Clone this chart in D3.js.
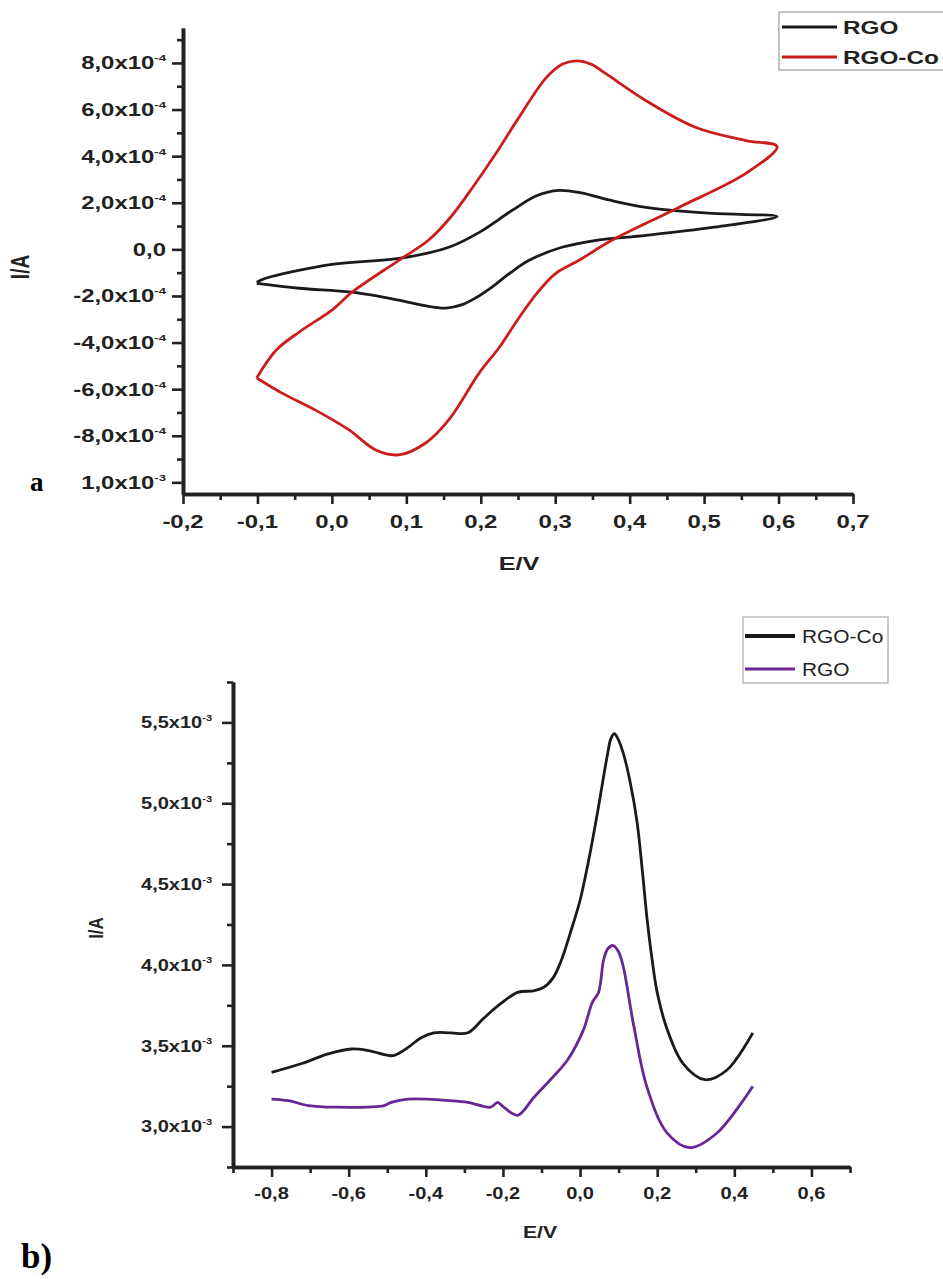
<!DOCTYPE html>
<html>
<head>
<meta charset="utf-8">
<script src="https://cdn.jsdelivr.net/npm/d3@7/dist/d3.min.js"></script>
<style>
  body { margin: 0; background: #fff; }
  svg { display: block; }
</style>
</head>
<body>
<div id="viz"></div>
<script>
// ---- panel a : cyclic voltammograms ----
var aRgoE = [-0.101, -0.089, 0.0, 0.09, 0.157, 0.198, 0.242, 0.275, 0.305, 0.335, 0.372, 0.422, 0.511, 0.598,
             0.511, 0.422, 0.355, 0.309, 0.265, 0.24, 0.215, 0.195, 0.175, 0.153, 0.125, 0.09, 0.027, -0.044, -0.101];
var aRgoI = [-1.41e-4, -1.24e-4, -0.64e-4, -0.39e-4, 0.09e-4, 0.73e-4, 1.67e-4, 2.30e-4, 2.53e-4, 2.42e-4, 2.12e-4, 1.80e-4, 1.54e-4, 1.41e-4,
             0.94e-4, 0.60e-4, 0.39e-4, 0.09e-4, -0.47e-4, -1.0e-4, -1.62e-4, -2.05e-4, -2.37e-4, -2.52e-4, -2.42e-4, -2.18e-4, -1.84e-4, -1.67e-4, -1.46e-4];

var aCoE = [-0.101, -0.075, -0.044, 0.0, 0.027, 0.09, 0.13, 0.16, 0.19, 0.22, 0.25, 0.288, 0.31, 0.328, 0.348, 0.368, 0.422, 0.489, 0.556, 0.598,
            0.556, 0.466, 0.376, 0.332, 0.30, 0.275, 0.25, 0.225, 0.198, 0.157, 0.126, 0.09, 0.059, 0.023, -0.022, -0.067, -0.101];
var aCoI = [-5.52e-4, -4.33e-4, -3.55e-4, -2.61e-4, -1.84e-4, -0.47e-4, 0.40e-4, 1.40e-4, 2.70e-4, 4.10e-4, 5.60e-4, 7.37e-4, 7.95e-4, 8.09e-4, 7.95e-4, 7.54e-4, 6.38e-4, 5.23e-4, 4.67e-4, 4.41e-4,
            3.26e-4, 1.80e-4, 0.39e-4, -0.47e-4, -1.05e-4, -1.90e-4, -3.00e-4, -4.20e-4, -5.30e-4, -7.32e-4, -8.31e-4, -8.82e-4, -8.61e-4, -7.75e-4, -6.90e-4, -6.17e-4, -5.52e-4];

var aXTicks = [-0.2, -0.1, 0.0, 0.1, 0.2, 0.3, 0.4, 0.5, 0.6, 0.7];
var aYTicks = [8e-4, 6e-4, 4e-4, 2e-4, 0, -2e-4, -4e-4, -6e-4, -8e-4, -1e-3];
var aYLabels = ["8,0x10^-4", "6,0x10^-4", "4,0x10^-4", "2,0x10^-4", "0,0", "-2,0x10^-4", "-4,0x10^-4",
                "-6,0x10^-4", "-8,0x10^-4", "1,0x10^-3"];

// ---- panel b : differential pulse curves ----
var bCoE = [-0.8, -0.722, -0.653, -0.593, -0.549, -0.498, -0.482, -0.446, -0.412, -0.379, -0.335, -0.291, -0.250, -0.206,
            -0.162, -0.120, -0.095, -0.07, -0.05, -0.025, 0.0, 0.025, 0.045, 0.071, 0.08, 0.089, 0.098, 0.112, 0.13, 0.148, 0.162,
            0.174, 0.187, 0.2, 0.226, 0.267, 0.324, 0.381, 0.448];
var bCoI = [3.335e-3, 3.39e-3, 3.45e-3, 3.48e-3, 3.47e-3, 3.44e-3, 3.44e-3, 3.49e-3, 3.55e-3, 3.58e-3, 3.58e-3, 3.58e-3, 3.67e-3, 3.76e-3,
            3.83e-3, 3.84e-3, 3.86e-3, 3.92e-3, 4.02e-3, 4.20e-3, 4.40e-3, 4.68e-3, 4.94e-3, 5.30e-3, 5.40e-3, 5.43e-3, 5.40e-3, 5.31e-3, 5.13e-3, 4.88e-3, 4.57e-3,
            4.28e-3, 4.03e-3, 3.83e-3, 3.60e-3, 3.39e-3, 3.29e-3, 3.35e-3, 3.58e-3];

var bRgoE = [-0.8, -0.756, -0.704, -0.637, -0.508, -0.490, -0.446, -0.335, -0.291, -0.232, -0.214, -0.198, -0.162, -0.120, -0.077,
             -0.033, 0.009, 0.032, 0.048, 0.061, 0.072, 0.086, 0.10, 0.112, 0.138, 0.174, 0.226, 0.285, 0.355, 0.448];
var bRgoI = [3.17e-3, 3.16e-3, 3.13e-3, 3.12e-3, 3.13e-3, 3.15e-3, 3.17e-3, 3.16e-3, 3.15e-3, 3.12e-3, 3.15e-3, 3.12e-3, 3.07e-3, 3.18e-3, 3.29e-3,
             3.41e-3, 3.60e-3, 3.77e-3, 3.83e-3, 4.03e-3, 4.10e-3, 4.12e-3, 4.08e-3, 3.99e-3, 3.64e-3, 3.24e-3, 2.96e-3, 2.87e-3, 2.96e-3, 3.25e-3];

var bXTicks = [-0.8, -0.6, -0.4, -0.2, 0.0, 0.2, 0.4, 0.6];
var bYTicks = [5.5e-3, 5.0e-3, 4.5e-3, 4.0e-3, 3.5e-3, 3.0e-3];
var bYLabels = ["5,5x10^-3", "5,0x10^-3", "4,5x10^-3", "4,0x10^-3", "3,5x10^-3", "3,0x10^-3"];

var SANS = "'Liberation Sans', Arial, sans-serif";
var SERIF = "'Liberation Serif', 'Times New Roman', serif";
var INK = "#222";

var svg = d3.select("#viz")
  .append("svg")
  .attr("width", 943)
  .attr("height", 1279)
  .style("background", "#fff");

var commaFmt = function(d) { return d3.format(".1f")(d).replace("−", "-").replace(".", ","); };

// text stretched horizontally like the (squashed) original scan
function stretchText(g, x, y, str, size, weight, sx, anchor)
{
  var parts = str.split("^");
  var t = g.append("text")
    .attr("transform", "translate(" + x + "," + y + ") scale(" + sx + ",1)")
    .attr("text-anchor", anchor)
    .style("font-family", SANS)
    .style("font-size", size + "px")
    .style("font-weight", weight)
    .style("fill", INK);
  t.append("tspan").text(parts[0]);
  if(parts.length > 1)
    t.append("tspan")
      .attr("dy", -size * 0.45)
      .style("font-size", (size * 0.55) + "px")
      .text(parts[1]);
  return t;
}

function styleAxis(g, w)
{
  g.select(".domain").attr("stroke", INK).attr("stroke-width", w);
  g.selectAll(".tick line").attr("stroke", INK).attr("stroke-width", 2.6);
}

function drawPanel(cfg)
{
  var x = d3.scaleLinear().domain(cfg.xDomain).range(cfg.xRange);
  var y = d3.scaleLinear().domain(cfg.yDomain).range(cfg.yRange);
  var g = svg.append("g");

  // minor ticks
  var gxm = g.append("g")
    .attr("transform", "translate(0," + cfg.yRange[0] + ")")
    .call(d3.axisBottom(x).tickValues(cfg.xMinor).tickSize(6).tickSizeOuter(0).tickFormat(""));
  var gym = g.append("g")
    .attr("transform", "translate(" + cfg.xRange[0] + ",0)")
    .call(d3.axisLeft(y).tickValues(cfg.yMinor).tickSize(6).tickSizeOuter(0).tickFormat(""));
  styleAxis(gxm, 3.6); styleAxis(gym, 3.6);

  // major ticks
  var gx = g.append("g")
    .attr("transform", "translate(0," + cfg.yRange[0] + ")")
    .call(d3.axisBottom(x).tickValues(cfg.xTicks).tickSize(10).tickSizeOuter(0).tickFormat(""));
  var gy = g.append("g")
    .attr("transform", "translate(" + cfg.xRange[0] + ",0)")
    .call(d3.axisLeft(y).tickValues(cfg.yTicks).tickSize(11).tickSizeOuter(0).tickFormat(""));
  styleAxis(gx, 3.6); styleAxis(gy, 3.6);

  cfg.xTicks.forEach(function(v) {
    stretchText(g, x(v), cfg.xLabelY, commaFmt(v), cfg.fs, "bold", cfg.sx, "middle");
  });
  cfg.yTicks.forEach(function(v, i) {
    stretchText(g, cfg.yLabelX, y(v) + cfg.fs * 0.36, cfg.yLabels[i], cfg.fs, "bold", cfg.sx, "end");
  });

  cfg.series.forEach(function(s) {
    var pts = s.e.map(function(d, i) { return [d, s.i[i]]; });
    g.append("path")
      .datum(pts)
      .attr("fill", "none")
      .attr("stroke", s.color)
      .attr("stroke-width", s.w)
      .attr("stroke-linejoin", "round")
      .attr("d", d3.line()
        .x(function(d) { return x(d[0]); })
        .y(function(d) { return y(d[1]); })
        .curve(d3.curveCatmullRom.alpha(0.5)));
  });
  return g;
}

function range(a, b, step)
{
  // helper for minor tick positions
  var out = [];
  for(var v = a; v <= b + 1e-12; v += step) out.push(+v.toFixed(6));
  return out;
}

// panel a
var ga = drawPanel({
  xDomain: [-0.2, 0.7], xRange: [183, 853],
  yDomain: [-1.05e-3, 9.5e-4], yRange: [494, 28],
  xTicks: aXTicks, xMinor: range(-0.15, 0.65, 0.1),
  yTicks: aYTicks, yMinor: range(-9e-4, 9e-4, 2e-4),
  yLabels: aYLabels, fs: 18, sx: 1.33,
  xLabelY: 528, yLabelX: 166,
  series: [
    { e: aRgoE, i: aRgoI, color: "#1a1a1a", w: 2.8 },
    { e: aCoE, i: aCoI, color: "#cc1d1d", w: 2.8 }
  ]
});

stretchText(ga, 519, 570, "E/V", 19, "bold", 1.33, "middle");
ga.append("text")
  .attr("transform", "translate(29,267) scale(1.33,1) rotate(-90)")
  .attr("text-anchor", "middle")
  .style("font-family", SANS).style("font-size", "19px").style("font-weight", "bold")
  .style("fill", INK)
  .text("I/A");
ga.append("text")
  .attr("x", 30).attr("y", 491)
  .style("font-family", SERIF).style("font-size", "27px").style("font-weight", "bold")
  .text("a");

// legend a
var la = ga.append("g");
la.append("rect").attr("x", 779).attr("y", 12).attr("width", 170).attr("height", 58)
  .attr("fill", "#fff").attr("stroke", "#999").attr("stroke-width", 1.2);
[["RGO", "#1a1a1a", 27], ["RGO-Co", "#cc1d1d", 57]].forEach(function(d) {
  la.append("line").attr("x1", 782).attr("x2", 837).attr("y1", d[2]).attr("y2", d[2])
    .attr("stroke", d[1]).attr("stroke-width", 3);
  stretchText(la, 843, d[2] + 7, d[0], 19, "bold", 1.28, "start");
});

// panel b
var gb = drawPanel({
  xDomain: [-0.9, 0.7], xRange: [233, 850],
  yDomain: [2.75e-3, 5.75e-3], yRange: [1167, 682],
  xTicks: bXTicks, xMinor: range(-0.9, 0.7, 0.2),
  yTicks: bYTicks, yMinor: range(2.75e-3, 5.75e-3, 5e-4),
  yLabels: bYLabels, fs: 16, sx: 1.25,
  xLabelY: 1199, yLabelX: 212,
  series: [
    { e: bCoE, i: bCoI, color: "#1a1a1a", w: 2.8 },
    { e: bRgoE, i: bRgoI, color: "#6a2596", w: 2.8 }
  ]
});

stretchText(gb, 540, 1238, "E/V", 17, "bold", 1.25, "middle");
gb.append("text")
  .attr("transform", "translate(103,928) scale(1.2,1) rotate(-90)")
  .attr("text-anchor", "middle")
  .style("font-family", SANS).style("font-size", "17px").style("font-weight", "bold")
  .style("fill", INK)
  .text("I/A");
gb.append("text")
  .attr("x", 21).attr("y", 1268)
  .style("font-family", SERIF).style("font-size", "35px").style("font-weight", "bold")
  .text("b)");

// legend b
var lb = gb.append("g");
lb.append("rect").attr("x", 743).attr("y", 617).attr("width", 145).attr("height", 66)
  .attr("fill", "#fff").attr("stroke", "#aaa").attr("stroke-width", 1.2);
[["RGO-Co", "#1a1a1a", 636, 4], ["RGO", "#6a2596", 669, 3]].forEach(function(d) {
  lb.append("line").attr("x1", 745).attr("x2", 795).attr("y1", d[2]).attr("y2", d[2])
    .attr("stroke", d[1]).attr("stroke-width", d[3]);
  stretchText(lb, 802, d[2] + 7, d[0], 19, "normal", 1.1, "start");
});
</script>
</body>
</html>
